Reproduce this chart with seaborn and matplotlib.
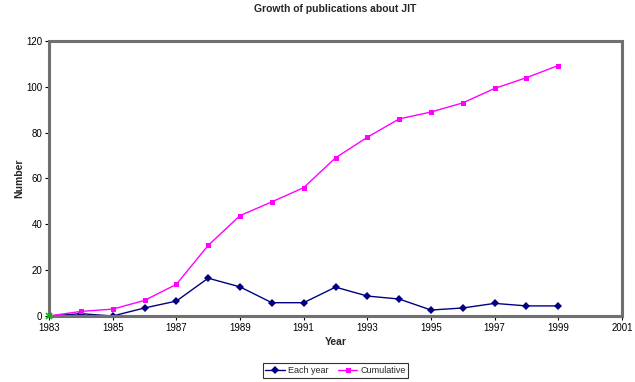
import matplotlib
import pandas as pd
import seaborn as sns
from matplotlib import pyplot as plt

matplotlib.use("Agg")

years = list(range(1983, 2000))
each_year = [0, 1, 0, 3.5, 6.5, 16.5, 12.7, 5.8, 5.8, 12.6, 8.7, 7.4, 2.6, 3.5, 5.5, 4.4, 4.4]
cumulative = [0, 2, 3, 6.8, 13.8, 30.8, 43.8, 49.8, 56, 69, 78, 86, 89, 93, 99.3, 104, 109.3]
x_ticks = list(range(1983, 2002, 2))
y_ticks = list(range(0, 121, 20))

sns.set_theme(style="white")
plt.rcParams["font.family"] = ["Liberation Sans", "DejaVu Sans"]

df = pd.DataFrame({"Year": years, "Each year": each_year, "Cumulative": cumulative})

fig = plt.figure(figsize=(6.35, 3.82), dpi=100)
ax = fig.add_axes([0.0772, 0.1728, 0.9023, 0.7199])

sns.lineplot(data=df, x="Year", y="Each year", ax=ax, color="#000080", marker="D",
             markersize=3.6, markeredgewidth=0, linewidth=1, label="Each year")
sns.lineplot(data=df, x="Year", y="Cumulative", ax=ax, color="#FF00FF", marker="s",
             markersize=3.6, markeredgewidth=0, linewidth=1, label="Cumulative")
ax.plot(years[0], each_year[0], marker="x", color="#00C000", markersize=4, mew=1.2,
        clip_on=False, zorder=5)

ax.set_xlim(1983, 2001)
ax.set_ylim(0, 120)
ax.set_xticks(x_ticks)
ax.set_yticks(y_ticks)
ax.tick_params(axis="both", labelsize=7, length=3, width=0.8, direction="out",
               bottom=True, left=True, pad=2, colors="black")

# Excel-style checkered frame
for spine in ax.spines.values():
    spine.set_visible(True)
    spine.set_color("#707070")
    spine.set_linewidth(2.2)
    spine.set_linestyle((0, (0.45, 0.45)))

ax.set_title("Growth of publications about JIT", fontsize=7.5, fontweight="bold", pad=21)
ax.set_xlabel("Year", fontsize=7.5, fontweight="bold", labelpad=3)
ax.set_ylabel("Number", fontsize=7.5, fontweight="bold", labelpad=1)

leg = ax.legend(loc="upper center", bbox_to_anchor=(0.5, -0.155), ncol=2, fontsize=6.5,
                frameon=True, fancybox=False, edgecolor="black", borderpad=0.3,
                handlelength=2.2, columnspacing=1.0, handletextpad=0.3)
leg.get_frame().set_linewidth(0.8)

fig.savefig("out.png", dpi=100)
